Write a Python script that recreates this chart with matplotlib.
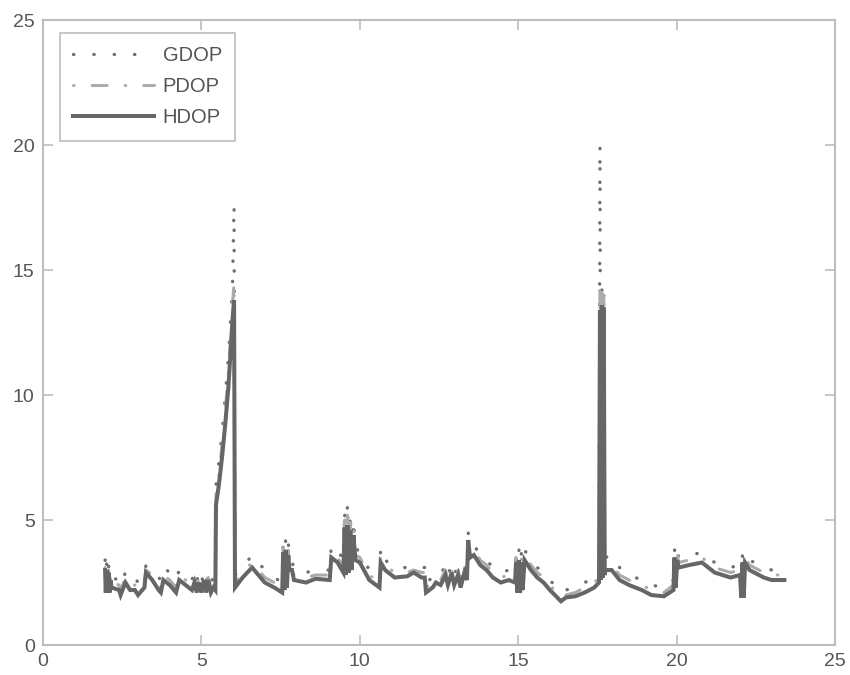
import matplotlib
matplotlib.use("Agg")
import matplotlib.pyplot as plt

plt.rcParams["font.family"] = ["Liberation Sans", "DejaVu Sans"]

# time axis shared by all three series
time = [
    1.96, 1.98, 2.01, 2.04, 2.07, 2.10, 2.13, 2.16, 2.40, 2.45,
    2.60, 2.75, 2.90, 3.00, 3.20, 3.25, 3.45, 3.65, 3.72, 3.80,
    4.00, 4.20, 4.30, 4.50, 4.70, 4.78, 4.85, 4.92, 5.00, 5.08,
    5.15, 5.22, 5.30, 5.38, 5.44,
    5.46, 5.55, 5.65, 5.75, 5.85, 5.92, 5.98, 6.03, 6.06,
    6.30, 6.60, 6.80, 7.00, 7.30, 7.55, 7.58, 7.62, 7.66, 7.70,
    7.74, 7.78, 7.86, 7.92, 8.30, 8.60, 9.05, 9.10, 9.30, 9.48,
    9.52, 9.56, 9.61, 9.65, 9.70, 9.74, 9.80, 9.86, 10.00, 10.30,
    10.62, 10.66, 10.80, 11.10, 11.50, 11.70, 11.95, 12.05, 12.09, 12.30,
    12.40, 12.55, 12.70, 12.78, 12.90, 12.98, 13.10, 13.18, 13.30, 13.38,
    13.42, 13.48, 13.60, 13.80, 14.00, 14.20, 14.45, 14.70, 14.90, 14.93,
    14.97, 15.02, 15.06, 15.10, 15.14, 15.20, 15.40, 15.60, 15.80, 16.00,
    16.35, 16.50, 16.80, 17.10, 17.40, 17.55,
    17.58, 17.61, 17.64, 17.67, 17.70, 17.73, 17.75,
    17.95, 18.20, 18.50, 18.90, 19.20, 19.60, 19.90, 19.93, 19.97, 20.02,
    20.06, 20.40, 20.80, 21.20, 21.70, 22.00, 22.04, 22.08, 22.12, 22.16,
    22.30, 22.75, 23.00, 23.40,
]

hdop = [
    3.0, 2.1, 3.0, 2.1, 2.9, 2.1, 2.6, 2.3, 2.2, 2.0,
    2.5, 2.2, 2.2, 2.0, 2.3, 2.9, 2.6, 2.2, 2.1, 2.6,
    2.4, 2.1, 2.6, 2.4, 2.2, 2.5, 2.1, 2.5, 2.1, 2.6,
    2.1, 2.6, 2.1, 2.3, 2.2,
    5.6, 6.4, 7.5, 8.8, 10.3, 11.7, 13.0, 13.8, 2.3,
    2.7, 3.1, 2.8, 2.5, 2.3, 2.1, 3.7, 2.2, 3.8, 2.3,
    3.6, 3.0, 3.0, 2.6, 2.5, 2.65, 2.6, 3.5, 3.3, 2.9,
    4.7, 2.8, 4.8, 2.9, 4.6, 3.0, 4.4, 3.4, 3.3, 2.6,
    2.3, 3.3, 3.0, 2.7, 2.75, 2.9, 2.7, 2.7, 2.1, 2.3,
    2.5, 2.4, 2.8, 2.4, 2.9, 2.4, 2.8, 2.3, 2.9, 2.6,
    4.2, 3.5, 3.6, 3.2, 3.0, 2.7, 2.5, 2.6, 2.5, 3.3,
    2.1, 3.4, 2.1, 3.3, 2.2, 3.4, 3.0, 2.7, 2.5, 2.2,
    1.75, 1.9, 1.95, 2.1, 2.3, 2.5,
    13.4, 2.6, 13.6, 2.7, 13.5, 2.8, 3.0,
    3.0, 2.6, 2.4, 2.2, 2.0, 1.95, 2.2, 3.5, 2.3, 3.4,
    3.1, 3.2, 3.3, 2.9, 2.7, 2.8, 1.9, 3.3, 1.9, 3.3,
    3.0, 2.7, 2.6, 2.6,
]

pdop = [
    3.1, 2.3, 3.1, 2.3, 3.0, 2.3, 2.8, 2.5, 2.4, 2.2,
    2.7, 2.4, 2.4, 2.2, 2.5, 3.0, 2.8, 2.4, 2.3, 2.8,
    2.6, 2.3, 2.8, 2.6, 2.4, 2.7, 2.3, 2.7, 2.3, 2.7,
    2.3, 2.7, 2.3, 2.5, 2.4,
    6.0, 6.8, 8.0, 9.3, 10.9, 12.3, 13.6, 14.5, 2.5,
    2.9, 3.3, 3.0, 2.7, 2.5, 2.3, 3.9, 2.4, 4.0, 2.5,
    3.8, 3.2, 3.2, 2.8, 2.7, 2.8, 2.8, 3.7, 3.5, 3.1,
    5.0, 3.0, 5.2, 3.1, 4.9, 3.2, 4.7, 3.6, 3.5, 2.8,
    2.5, 3.5, 3.2, 2.9, 2.9, 3.0, 2.9, 2.9, 2.3, 2.5,
    2.7, 2.6, 3.0, 2.6, 3.0, 2.6, 3.0, 2.5, 3.1, 2.8,
    4.3, 3.7, 3.8, 3.4, 3.2, 2.9, 2.7, 2.8, 2.7, 3.5,
    2.3, 3.6, 2.3, 3.5, 2.4, 3.6, 3.2, 2.9, 2.7, 2.4,
    1.9, 2.0, 2.1, 2.3, 2.5, 2.7,
    14.2, 2.8, 14.3, 2.9, 14.0, 3.0, 3.2,
    3.2, 2.8, 2.6, 2.4, 2.2, 2.1, 2.4, 3.7, 2.5, 3.6,
    3.3, 3.4, 3.5, 3.1, 2.9, 3.0, 2.1, 3.5, 2.1, 3.5,
    3.2, 2.9, 2.8, 2.8,
]

gdop = [
    3.4, 2.5, 3.3, 2.5, 3.2, 2.5, 3.0, 2.7, 2.6, 2.4,
    2.9, 2.6, 2.7, 2.5, 2.8, 3.2, 3.0, 2.7, 2.6, 3.1,
    2.9, 2.6, 3.0, 2.8, 2.6, 2.9, 2.5, 2.9, 2.5, 2.9,
    2.5, 2.9, 2.5, 2.7, 2.6,
    6.4, 7.3, 8.5, 9.9, 11.5, 13.0, 14.3, 17.6, 2.8,
    3.1, 3.6, 3.3, 3.0, 2.7, 2.5, 4.1, 2.6, 4.3, 2.7,
    4.1, 3.5, 3.4, 3.0, 2.9, 3.0, 3.0, 4.0, 3.8, 3.4,
    5.4, 3.3, 5.7, 3.4, 5.3, 3.5, 5.0, 3.9, 3.7, 3.0,
    2.7, 3.9, 3.4, 3.1, 3.1, 3.2, 3.1, 3.1, 2.5, 2.7,
    2.9, 2.8, 3.2, 2.8, 3.2, 2.8, 3.2, 2.7, 3.3, 3.0,
    4.5, 4.0, 4.0, 3.6, 3.4, 3.1, 2.9, 3.0, 2.9, 3.8,
    2.5, 3.9, 2.5, 3.7, 2.6, 3.8, 3.4, 3.1, 2.9, 2.6,
    2.1, 2.2, 2.3, 2.5, 2.7, 2.9,
    20.0, 3.0, 14.4, 3.1, 14.2, 3.3, 3.5,
    3.6, 3.1, 2.8, 2.6, 2.4, 2.3, 2.6, 4.0, 2.7, 3.8,
    3.5, 3.6, 3.7, 3.3, 3.1, 3.2, 2.3, 3.7, 2.3, 3.6,
    3.4, 3.1, 3.0, 3.0,
]

labels = ["GDOP", "PDOP", "HDOP"]
x_ticks = [0, 5, 10, 15, 20, 25]
y_ticks = [0, 5, 10, 15, 20, 25]

text_color = "#555555"
frame_color = "#bdbdbd"

fig = plt.figure(figsize=(8.5, 6.75), dpi=100)
ax = fig.add_axes([0.0506, 0.0444, 0.9318, 0.9259])

ax.plot(time, gdop, color="#6e6e6e", lw=2.4, linestyle=(0, (0.1, 6.0)),
        dash_capstyle="round", label=labels[0])
ax.plot(time, pdop, color="#ababab", lw=2.2, linestyle=(0, (0.2, 5.9, 4.9, 5.9)),
        dash_capstyle="round", label=labels[1])
ax.plot(time, hdop, color="#666666", lw=2.9, solid_joinstyle="miter",
        label=labels[2])

ax.set_xlim(0, 25)
ax.set_ylim(0, 25)
ax.set_xticks(x_ticks)
ax.set_yticks(y_ticks)
ax.tick_params(direction="in", length=7, width=1.2, color=frame_color,
               labelcolor=text_color, labelsize=14, top=True, right=True,
               pad=6)
for s in ax.spines.values():
    s.set_color(frame_color)
    s.set_linewidth(1.5)

leg = ax.legend(loc="upper left", bbox_to_anchor=(0.0215, 0.979),
                borderaxespad=0, fontsize=14.5, handlelength=4.0,
                handletextpad=0.45, labelspacing=0.6, borderpad=0.65,
                fancybox=False, framealpha=1)
leg.get_frame().set_edgecolor(frame_color)
leg.get_frame().set_linewidth(1.2)
for t in leg.get_texts():
    t.set_color(text_color)

fig.savefig("out.png", dpi=100)
